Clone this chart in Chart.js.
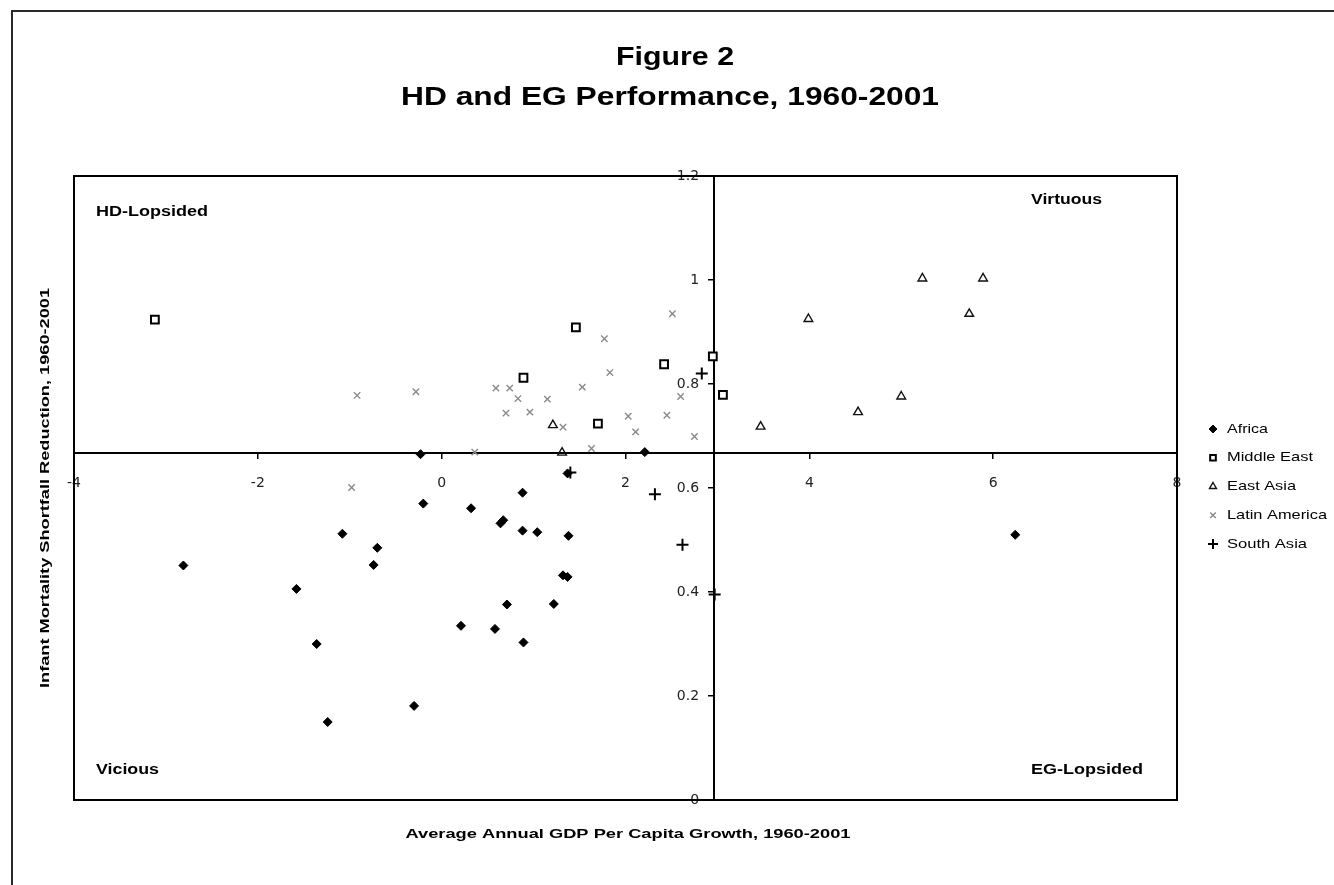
<!DOCTYPE html>
<html><head><meta charset="utf-8">
<script src="https://cdn.jsdelivr.net/npm/chart.js@4.4.0/dist/chart.umd.min.js"></script>
<style>html,body{margin:0;padding:0;background:#fff;overflow:hidden}#wrap{position:relative;width:1334px;height:885px}</style>
</head><body><div id="wrap"><canvas id="c" width="1334" height="885"></canvas></div>
<script>
// ---- data ----
const xTicks = [-4, -2, 0, 2, 4, 6, 8];
const yTicks = [0, 0.2, 0.4, 0.6, 0.8, 1, 1.2];
const xCross = 2.96;   // vertical axis crosses at this growth value
const yCross = 0.667;  // horizontal axis crosses at this reduction value
const seriesNames = ['Africa', 'Middle East', 'East Asia', 'Latin America', 'South Asia'];
const quadrantLabels = ['HD-Lopsided', 'Virtuous', 'Vicious', 'EG-Lopsided'];

const africaX = [-0.23, 2.21, 1.37, -0.20, -1.08, -0.70, -0.74, -2.81, -1.58, -1.36, -0.30, -1.24, 0.21, 0.32, 0.88, 0.67, 0.64, 0.88, 1.04, 1.38, 1.32, 1.37, 0.71, 1.22, 0.58, 0.89, 6.24];
const africaY = [0.665, 0.669, 0.628, 0.570, 0.512, 0.485, 0.452, 0.451, 0.406, 0.300, 0.181, 0.150, 0.335, 0.561, 0.591, 0.538, 0.532, 0.518, 0.515, 0.508, 0.432, 0.429, 0.376, 0.377, 0.329, 0.303, 0.510];

const meX = [-3.12, 1.46, 2.42, 2.95, 3.06, 0.89, 1.70];
const meY = [0.924, 0.909, 0.838, 0.853, 0.779, 0.812, 0.724];

const eaX = [1.21, 1.31, 3.47, 3.99, 4.53, 5.00, 5.23, 5.74, 5.89];
const eaY = [0.721, 0.668, 0.718, 0.925, 0.746, 0.776, 1.003, 0.935, 1.003];

const laX = [-0.92, -0.28, -0.98, 2.51, 1.77, 1.83, 0.59, 0.74, 0.83, 1.15, 1.53, 0.70, 0.96, 2.60, 2.45, 2.03, 1.32, 2.11, 2.75, 1.63, 0.36];
const laY = [0.778, 0.785, 0.601, 0.935, 0.887, 0.822, 0.792, 0.792, 0.772, 0.771, 0.794, 0.744, 0.746, 0.776, 0.740, 0.738, 0.717, 0.708, 0.699, 0.676, 0.669];

const saX = [2.83, 1.40, 2.32, 2.62, 2.97];
const saY = [0.820, 0.630, 0.588, 0.491, 0.395];

const pts = (xs, ys) => xs.map((x, i) => ({x: x, y: ys[i]}));

// ---- styles ----
const styles = [
  {pointStyle: 'rectRot', radius: 4.5, bg: '#000', border: '#000', bw: 1},
  {pointStyle: 'rect', radius: 5.5, bg: '#fff', border: '#000', bw: 2},
  {pointStyle: 'triangle', radius: 5, bg: 'rgba(0,0,0,0)', border: '#111', bw: 1.4},
  {pointStyle: 'crossRot', radius: 4.5, bg: '#8a8a8a', border: '#8a8a8a', bw: 1.4},
  {pointStyle: 'cross', radius: 6, bg: '#000', border: '#000', bw: 2}
];
const seriesData = [pts(africaX, africaY), pts(meX, meY), pts(eaX, eaY), pts(laX, laY), pts(saX, saY)];

const datasets = seriesNames.map((n, i) => ({
  label: n,
  data: seriesData[i],
  pointStyle: styles[i].pointStyle,
  pointRadius: styles[i].radius,
  pointHoverRadius: styles[i].radius,
  backgroundColor: styles[i].bg,
  borderColor: styles[i].border,
  pointBorderWidth: styles[i].bw,
  borderWidth: styles[i].bw
}));

function mark(ctx, st, x, y, r) {
  ctx.save();
  ctx.fillStyle = st.bg; ctx.strokeStyle = st.border; ctx.lineWidth = st.bw;
  ctx.beginPath();
  if (st.pointStyle === 'rectRot') {
    ctx.moveTo(x, y - r); ctx.lineTo(x + r, y); ctx.lineTo(x, y + r); ctx.lineTo(x - r, y); ctx.closePath();
    ctx.fill(); ctx.stroke();
  } else if (st.pointStyle === 'rect') {
    const s = r * Math.SQRT1_2;
    ctx.rect(x - s, y - s, 2 * s, 2 * s); ctx.fill(); ctx.stroke();
  } else if (st.pointStyle === 'triangle') {
    ctx.moveTo(x, y - r); ctx.lineTo(x + r * 0.87, y + r * 0.5); ctx.lineTo(x - r * 0.87, y + r * 0.5); ctx.closePath();
    ctx.stroke();
  } else if (st.pointStyle === 'crossRot') {
    const s = r * Math.SQRT1_2;
    ctx.moveTo(x - s, y - s); ctx.lineTo(x + s, y + s); ctx.moveTo(x + s, y - s); ctx.lineTo(x - s, y + s); ctx.stroke();
  } else {
    ctx.moveTo(x - r, y); ctx.lineTo(x + r, y); ctx.moveTo(x, y - r); ctx.lineTo(x, y + r); ctx.stroke();
  }
  ctx.restore();
}

function txt(ctx, s, x, y, size, bold, align, targetW, rot) {
  ctx.save();
  ctx.font = (bold ? 'bold ' : '') + size + 'px "Liberation Sans", Arial, sans-serif';
  ctx.fillStyle = '#000';
  ctx.textBaseline = 'middle';
  ctx.textAlign = align;
  const w = ctx.measureText(s).width;
  const sx = targetW ? targetW / w : 1;
  ctx.translate(x, y);
  if (rot) ctx.rotate(rot);
  ctx.scale(sx, 1);
  ctx.fillText(s, 0, 0);
  ctx.restore();
}

const deco = {
  id: 'deco',
  beforeDraw(chart) {
    const ctx = chart.ctx;
    ctx.save(); ctx.fillStyle = '#fff'; ctx.fillRect(0, 0, chart.width, chart.height); ctx.restore();
  },
  afterDraw(chart) {
    const ctx = chart.ctx, a = chart.chartArea;
    ctx.save();
    ctx.strokeStyle = '#000'; ctx.lineWidth = 2;
    ctx.strokeRect(a.left, a.top, a.right - a.left, a.bottom - a.top);
    ctx.fillStyle = '#2a2a2a';
    ctx.fillRect(11, 10, 1323, 2);
    ctx.fillRect(11, 10, 2, 875);
    ctx.restore();
    // titles
    txt(ctx, 'Figure 2', 675, 58, 26, true, 'center', 118);
    txt(ctx, 'HD and EG Performance, 1960-2001', 670, 98, 26, true, 'center', 538);
    txt(ctx, 'Infant Mortality Shortfall Reduction, 1960-2001', 45, 488, 13, true, 'center', 400, -Math.PI / 2);
    txt(ctx, 'Average Annual GDP Per Capita Growth, 1960-2001', 628, 834, 13, true, 'center', 445);
    // quadrant labels
    txt(ctx, quadrantLabels[0], 96, 212, 14, true, 'left', 112);
    txt(ctx, quadrantLabels[1], 1031, 200, 14, true, 'left', 71);
    txt(ctx, quadrantLabels[2], 96, 770, 14, true, 'left', 63);
    txt(ctx, quadrantLabels[3], 1031, 770, 14, true, 'left', 112);
    // legend
    const widths = [41, 86, 69, 100, 80];
    seriesNames.forEach((n, i) => {
      const y = 429 + i * 28.75;
      mark(ctx, styles[i], 1213, y, i === 4 ? 5 : 4);
      txt(ctx, n, 1227, y, 13, false, 'left', widths[i]);
    });
  }
};

const tickFont = {family: '"DejaVu Sans", sans-serif', size: 14};
const fmt = v => String(+Number(v).toFixed(1));

new Chart(document.getElementById('c'), {
  type: 'scatter',
  data: {datasets: datasets},
  options: {
    responsive: false,
    animation: false,
    devicePixelRatio: 1,
    layout: {padding: {left: 74, top: 176, right: 157, bottom: 85}},
    plugins: {legend: {display: false}, title: {display: false}, tooltip: {enabled: false}},
    scales: {
      x: {
        type: 'linear', min: xTicks[0], max: xTicks[xTicks.length - 1],
        position: {y: yCross},
        afterBuildTicks: s => { s.ticks = xTicks.map(v => ({value: v})); },
        afterFit: s => { s.height = 0; },
        grid: {drawOnChartArea: false, drawTicks: true, tickLength: 5, color: '#000', lineWidth: 1.5},
        border: {display: true, color: '#000', width: 2},
        ticks: {color: '#222', font: tickFont, padding: 17, maxRotation: 0, autoSkip: false, callback: fmt}
      },
      y: {
        type: 'linear', min: yTicks[0], max: yTicks[yTicks.length - 1],
        position: {x: xCross},
        afterBuildTicks: s => { s.ticks = yTicks.map(v => ({value: v})); },
        afterFit: s => { s.width = 0; },
        grid: {drawOnChartArea: false, drawTicks: true, tickLength: 5, color: '#000', lineWidth: 1.5},
        border: {display: true, color: '#000', width: 2},
        ticks: {display: false}
      },
      yLabels: {
        type: 'linear', min: yTicks[0], max: yTicks[yTicks.length - 1],
        position: {x: xCross - 0.16},
        afterBuildTicks: s => { s.ticks = yTicks.map(v => ({value: v})); },
        afterFit: s => { s.width = 0; },
        grid: {display: false},
        border: {display: false},
        ticks: {color: '#222', font: tickFont, padding: 0, autoSkip: false, callback: fmt}
      }
    }
  },
  plugins: [deco]
});
</script>
</body></html>
